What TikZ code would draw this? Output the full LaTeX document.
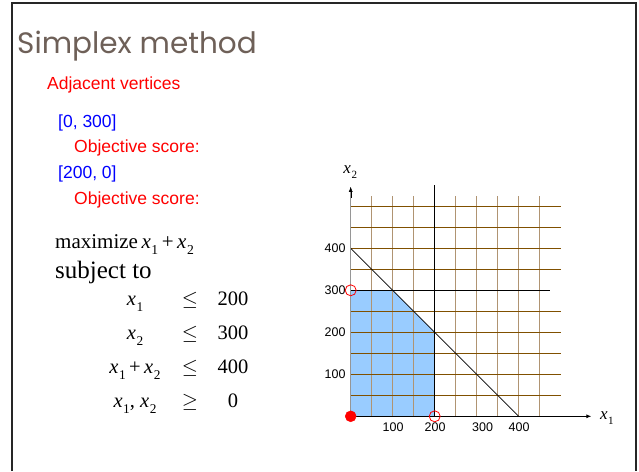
\documentclass[tikz,border=0pt]{standalone}
\usepackage{fontspec}
\usepackage{graphicx}
\setmainfont{Liberation Serif}
\newfontfamily\arialfont{Liberation Sans}
\newfontfamily\titlefont{Poppins}
\usetikzlibrary{arrows.meta}

\definecolor{titlegray}{RGB}{110,96,88}
\definecolor{gridbrown}{RGB}{128,80,0}
\definecolor{gridtan}{RGB}{176,148,114}
\definecolor{regionblue}{RGB}{153,204,255}
\definecolor{axisgray}{RGB}{150,150,150}

\newcommand*{\xs}[1]{\textit{x}\kern0.03em\raisebox{-0.3em}{\scalebox{0.65}{#1}}}

\begin{document}
\begin{tikzpicture}
[
	x=1pt, y=-1pt,
	redtext/.style={text=red,font=\arialfont\fontsize{17.5}{20}\selectfont,anchor=base west,inner sep=0pt},
	bluetext/.style={text=blue,font=\arialfont\fontsize{17.5}{20}\selectfont,anchor=base west,inner sep=0pt},
	mathtext/.style={font=\fontsize{20.5}{24}\selectfont,anchor=base,inner sep=0pt},
	ticklabel/.style={font=\arialfont\fontsize{12.5}{14}\selectfont,inner sep=0pt},
	closedpt/.style={circle,draw=red,fill=red,inner sep=0pt,minimum size=11pt},
	openpt/.style={circle,draw=red,thick,inner sep=0pt,minimum size=11pt}
]
	\useasboundingbox (0,0) rectangle (639,471);

	% slide frame
	\draw[line width=2pt,black!85] (11.5,471) -- (11.5,2.5) -- (636,2.5) -- (636,471);

	% title and notes
	\node[anchor=base west,inner sep=0pt,text=titlegray,font=\titlefont\fontsize{29.5}{33}\selectfont] (title) at (17,53) {Simplex method};
	\node[redtext] (adj) at (47,89) {Adjacent vertices};
	\node[bluetext] (vA) at (58,127) {[0, 300]};
	\node[redtext] (scoreA) at (74,152) {Objective score:};
	\node[bluetext] (vB) at (58,178) {[200, 0]};
	\node[redtext] (scoreB) at (74,204) {Objective score:};

	% linear program
	\node[anchor=base west,inner sep=0pt,font=\fontsize{21}{24}\selectfont] (maxim) at (55,248) {maximize\,\xs{1}\,+\,\xs{2}};
	\node[anchor=base west,inner sep=0pt,font=\fontsize{25}{28}\selectfont] (subj) at (55,278) {subject to};
	\node[mathtext] (lhsA) at (135,305) {\xs{1}};
	\node[mathtext] (relA) at (190,305) {$\leq$};
	\node[mathtext] (rhsA) at (233,305) {200};
	\node[mathtext] (lhsB) at (135,339) {\xs{2}};
	\node[mathtext] (relB) at (190,339) {$\leq$};
	\node[mathtext] (rhsB) at (233,339) {300};
	\node[mathtext] (lhsC) at (135,373) {\xs{1}\,+\,\xs{2}};
	\node[mathtext] (relC) at (190,373) {$\leq$};
	\node[mathtext] (rhsC) at (233,373) {400};
	\node[mathtext] (lhsD) at (135,407) {\xs{1}, \xs{2}};
	\node[mathtext] (relD) at (190,407) {$\geq$};
	\node[mathtext] (rhsD) at (233,407) {0};

	% graph
	\begin{scope}[shift={(350.7,416.3)},x=0.42pt,y=0.42pt]
		\coordinate (orig) at (0,0);
		\coordinate (ytop) at (0,546);
		\coordinate (xend) at (573,0);
		\coordinate (yfour) at (0,400);
		\coordinate (xfour) at (400,0);

		% feasible region
		\fill[regionblue] (0,0) -- (0,300) -- (100,300) -- (200,200) -- (200,0) -- cycle;

		% grid
		\foreach \gx in {50,100,150,250,300,350,400,450}
			\draw[gridtan,line width=1.5pt] (\gx,0) -- (\gx,524);
		\foreach \gy in {50,100,150,200,250,350,400,450,500}
			\draw[gridbrown,line width=1pt] (0,\gy) -- (500,\gy);

		% constraints
		\draw[black,line width=1pt] (200,0) -- (200,551);
		\draw[black,line width=1pt] (0,300) -- (475,300);
		\draw[black,line width=0.8pt] (yfour) -- (xfour);

		% axes
		\draw[axisgray,line width=1.2pt] (orig) -- (ytop);
		\draw[-{Latex[length=5pt,width=4pt]},black] (0,520) -- (ytop);
		\draw[-{Latex[length=5pt,width=4pt]},black,line width=0.9pt] (orig) -- (xend);
		\node[font=\fontsize{17}{19}\selectfont] (xtwo) at (-1,582) {\xs{2}};
		\node[font=\fontsize{17}{19}\selectfont] (xone) at (610,-4) {\xs{1}};

		% tick labels
		\foreach \tx/\tp in {100/101,200/201,300/314,400/401}
			\node[ticklabel] (tx\tx) at (\tp,-25) {\tx};
		\foreach \ty in {100,200,300,400}
			\node[ticklabel] (ty\ty) at (-37,\ty) {\ty};

		% vertices
		\node[closedpt] (pO) at (orig) {};
		\node[openpt] (pA) at (0,300) {};
		\node[openpt] (pB) at (200,0) {};
	\end{scope}

\end{tikzpicture}
\end{document}
